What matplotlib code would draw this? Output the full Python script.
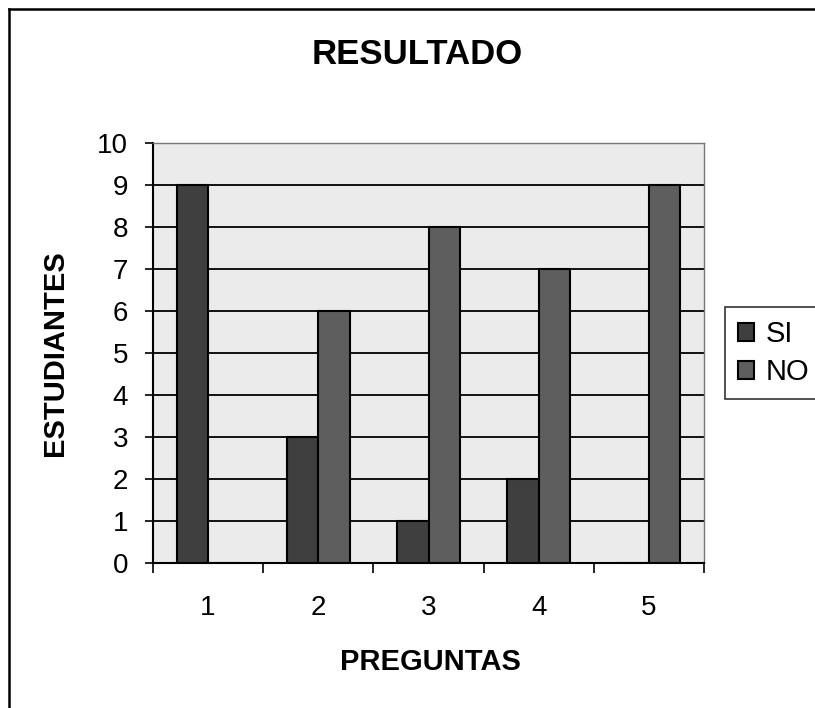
import matplotlib
matplotlib.use("Agg")
import matplotlib.pyplot as plt
import numpy as np
from matplotlib.lines import Line2D

categories = ['1', '2', '3', '4', '5']
si_values = [9, 3, 1, 2, 0]
no_values = [0, 6, 8, 7, 9]
series_names = ['SI', 'NO']
yticks = list(range(0, 11))

plt.rcParams['font.family'] = ['Liberation Sans', 'DejaVu Sans']

W, H = 815, 708
fig = plt.figure(figsize=(W / 100, H / 100), dpi=100)
fig.patch.set_facecolor('white')

ax = fig.add_axes([153 / W, 1 - 563 / H, (704 - 153) / W, (563 - 143) / H])
ax.set_facecolor('#ebebeb')

x = np.arange(1, len(categories) + 1)
bw = 0.285
b1 = ax.bar(x - bw / 2, si_values, bw, color='#3f3f3f', edgecolor='black', linewidth=1.5, label=series_names[0], zorder=3)
b2 = ax.bar(x + bw / 2, no_values, bw, color='#5e5e5e', edgecolor='black', linewidth=1.5, label=series_names[1], zorder=3)

ax.set_xlim(0.5, len(categories) + 0.5)
ax.set_ylim(0, 10)
ax.set_yticks(yticks)
ax.set_yticklabels([str(v) for v in yticks])
ax.set_xticks(x)
ax.set_xticklabels(categories)
ax.set_xticks(np.arange(0.5, len(categories) + 1, 1.0), minor=True)

ax.tick_params(axis='x', which='major', length=0, pad=23, labelsize=20)
ax.tick_params(axis='x', which='minor', length=7.5, width=1.2, direction='out')
ax.tick_params(axis='y', which='major', length=6, width=1.2, direction='out', pad=12, labelsize=20)

ax.yaxis.grid(True, color='black', linewidth=1.3, zorder=1)
ax.set_axisbelow(True)
for side in ['left', 'bottom']:
    ax.spines[side].set_linewidth(1.5)
    ax.spines[side].set_color('black')
for side in ['right', 'top']:
    ax.spines[side].set_linewidth(1.0)
    ax.spines[side].set_color('#777777')

fig.text(417 / W, 1 - 55 / H, 'RESULTADO', ha='center', va='center', fontsize=25, fontweight='bold')
fig.text(430 / W, 1 - 662 / H, 'PREGUNTAS', ha='center', va='center', fontsize=21, fontweight='bold')
fig.text(55 / W, 1 - 353 / H, 'ESTUDIANTES', ha='center', va='center', rotation=90, fontsize=21, fontweight='bold')

leg = fig.legend(handles=[b1, b2], labels=series_names, loc='upper left',
                 bbox_to_anchor=(725 / W, 1 - 307 / H), fontsize=21, frameon=True,
                 fancybox=False, edgecolor='black', handlelength=0.55, handleheight=0.55,
                 handletextpad=0.4, labelspacing=0.35, borderpad=0.45, borderaxespad=0)
leg.get_frame().set_linewidth(1.2)

fig.add_artist(Line2D([9 / W, 9 / W], [0, 1 - 9 / H], color='black', linewidth=1.8, transform=fig.transFigure))
fig.add_artist(Line2D([9 / W, 1], [1 - 9 / H, 1 - 9 / H], color='black', linewidth=1.8, transform=fig.transFigure))

fig.savefig('out.png', dpi=100)
